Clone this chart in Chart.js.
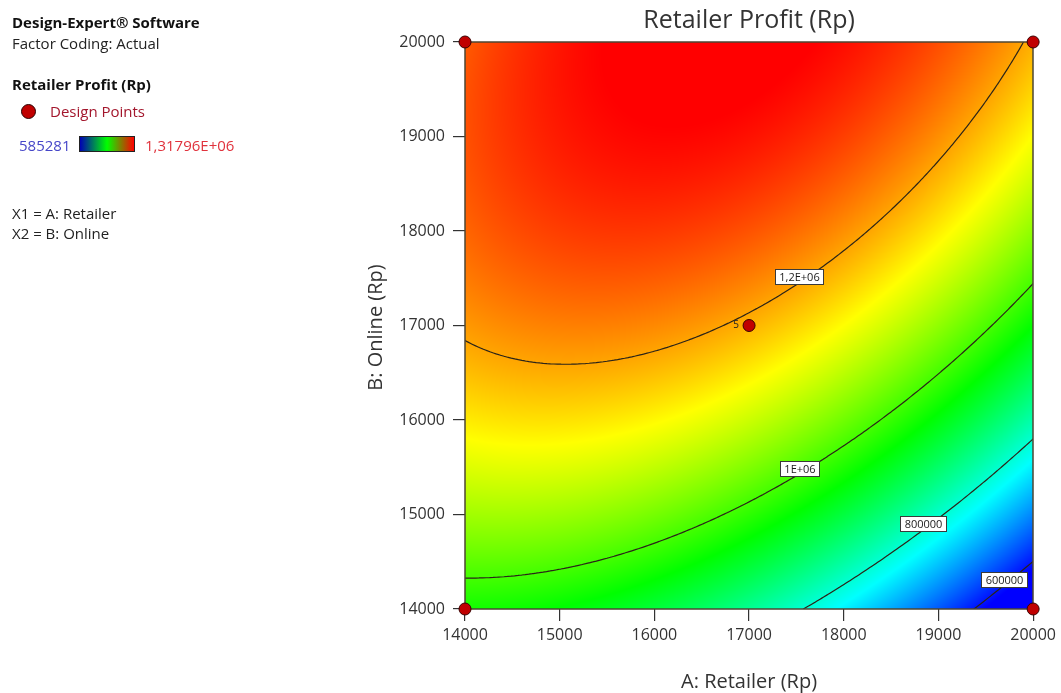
<!DOCTYPE html>
<html>
<head>
<meta charset="utf-8">
<title>Retailer Profit (Rp)</title>
<script src="https://cdn.jsdelivr.net/npm/chart.js@4.4.1/dist/chart.umd.min.js"></script>
<style>
  html, body { margin: 0; padding: 0; background: #fff; }
  #wrap { position: relative; width: 1061px; height: 693px; overflow: hidden; font-family: "Open Sans", "Noto Sans", sans-serif; }
  #chart { position: absolute; left: 0; top: 0; }
  .side { position: absolute; left: 12px; font-size: 15px; color: #222; white-space: nowrap; line-height: 18px; }
  .bold { font-weight: 700; color: #111; }
  #dot { position: absolute; left: 21px; top: 104px; width: 13px; height: 13px; border-radius: 50%; background: #c00000; border: 1.5px solid #2a0000; }
  #ramp { position: absolute; left: 79px; top: 136px; width: 54px; height: 14px; border: 1px solid #222;
          background: linear-gradient(to right, #0000b4, #00ff00 50%, #ff0000); }
</style>
</head>
<body>
<div id="wrap">
  <canvas id="chart" width="1061" height="693"></canvas>
  <div class="side bold" style="top:13px">Design-Expert® Software</div>
  <div class="side" style="top:34px">Factor Coding: Actual</div>
  <div class="side bold" style="top:75px">Retailer Profit (Rp)</div>
  <div id="dot"></div>
  <div class="side" style="top:102px;left:50px;color:#a3162c">Design Points</div>
  <div class="side" style="top:136px;left:19px;color:#4646c8">585281</div>
  <div id="ramp"></div>
  <div class="side" style="top:136px;left:145px;color:#e0323c">1,31796E+06</div>
  <div class="side" style="top:204px">X1 = A: Retailer</div>
  <div class="side" style="top:224px">X2 = B: Online</div>
</div>
<script>
// Fitted quadratic model of Retailer Profit in coded factors:
// a = (A - 17000) / 3000, b = (B - 17000) / 3000
const modelTerms = ['Intercept', 'A', 'B', 'AB', 'A²', 'B²'];
const modelCoefs = [1189300, -128000, 242050, 97750, -109400, -100000];
const factorCenter = [17000, 17000];
const factorHalfRange = [3000, 3000];

// Design points (A: Retailer, B: Online) and replicate counts
const designA = [14000, 20000, 14000, 20000, 17000];
const designB = [14000, 14000, 20000, 20000, 17000];
const designReps = [1, 1, 1, 1, 5];

// Colour scale limits
const responseMin = 585281;
const responseMax = 1317960;

// Contour levels and their tags; tags sit on the line at the given A value
const contourLevels = [600000, 800000, 1000000, 1200000];
const contourTags = ['600000', '800000', '1E+06', '1,2E+06'];
const contourTagA = [19694, 18839, 17530, 17530];

// Axis ticks
const retailerTicks = [14000, 15000, 16000, 17000, 18000, 19000, 20000];
const onlineTicks = [14000, 15000, 16000, 17000, 18000, 19000, 20000];

const FONT = '"Open Sans", "Noto Sans", sans-serif';

function profitAt(A, B) {
  const a = (A - factorCenter[0]) / factorHalfRange[0];
  const b = (B - factorCenter[1]) / factorHalfRange[1];
  const c = modelCoefs;
  return c[0] + c[1] * a + c[2] * b + c[3] * a * b + c[4] * a * a + c[5] * b * b;
}

// blue -> cyan -> green -> yellow -> red
const rampStops = [
  [0.00, 0, 0, 255],
  [0.25, 0, 255, 255],
  [0.50, 0, 255, 0],
  [0.75, 255, 255, 0],
  [1.00, 255, 0, 0]
];
function rampColor(v) {
  let t = (v - responseMin) / (responseMax - responseMin);
  t = Math.max(0, Math.min(1, t));
  for (let i = 1; i < rampStops.length; i++) {
    const s0 = rampStops[i - 1], s1 = rampStops[i];
    if (t <= s1[0]) {
      const f = (t - s0[0]) / (s1[0] - s0[0]);
      return [s0[1] + (s1[1] - s0[1]) * f, s0[2] + (s1[2] - s0[2]) * f, s0[3] + (s1[3] - s0[3]) * f];
    }
  }
  return [255, 0, 0];
}

// Marching squares over the model, returning segments in data units
function contourSegments(level, n) {
  const segs = [];
  const A0 = retailerTicks[0], A1 = retailerTicks[retailerTicks.length - 1];
  const B0 = onlineTicks[0], B1 = onlineTicks[onlineTicks.length - 1];
  const dA = (A1 - A0) / n, dB = (B1 - B0) / n;
  const g = [];
  for (let j = 0; j <= n; j++) {
    const row = [];
    for (let i = 0; i <= n; i++) row.push(profitAt(A0 + i * dA, B0 + j * dB) - level);
    g.push(row);
  }
  const lerp = (p, q, vp, vq) => {
    const f = vp / (vp - vq);
    return [p[0] + (q[0] - p[0]) * f, p[1] + (q[1] - p[1]) * f];
  };
  for (let j = 0; j < n; j++) {
    for (let i = 0; i < n; i++) {
      const P = [[A0 + i * dA, B0 + j * dB], [A0 + (i + 1) * dA, B0 + j * dB],
                 [A0 + (i + 1) * dA, B0 + (j + 1) * dB], [A0 + i * dA, B0 + (j + 1) * dB]];
      const V = [g[j][i], g[j][i + 1], g[j + 1][i + 1], g[j + 1][i]];
      const pts = [];
      for (let e = 0; e < 4; e++) {
        const v0 = V[e], v1 = V[(e + 1) % 4];
        if ((v0 < 0) !== (v1 < 0)) pts.push(lerp(P[e], P[(e + 1) % 4], v0, v1));
      }
      if (pts.length === 2) segs.push(pts);
      else if (pts.length === 4) { segs.push([pts[0], pts[1]]); segs.push([pts[2], pts[3]]); }
    }
  }
  return segs;
}

// B value where the contour of a level crosses a given A
function onlineForLevel(A, level) {
  let lo = onlineTicks[0], hi = onlineTicks[onlineTicks.length - 1];
  for (let k = 0; k < 60; k++) {
    const mid = (lo + hi) / 2;
    if (profitAt(A, mid) < level) lo = mid; else hi = mid;
  }
  return (lo + hi) / 2;
}

const surfacePlugin = {
  id: 'surface',
  beforeDatasetsDraw(chart) {
    const { ctx, chartArea: ca, scales: { x, y } } = chart;
    const L = Math.round(ca.left), T = Math.round(ca.top);
    const W = Math.round(ca.right) - L, H = Math.round(ca.bottom) - T;
    const img = ctx.createImageData(W, H);
    for (let py = 0; py < H; py++) {
      const B = y.getValueForPixel(T + py + 0.5);
      for (let px = 0; px < W; px++) {
        const A = x.getValueForPixel(L + px + 0.5);
        const c = rampColor(profitAt(A, B));
        const k = (py * W + px) * 4;
        img.data[k] = c[0]; img.data[k + 1] = c[1]; img.data[k + 2] = c[2]; img.data[k + 3] = 255;
      }
    }
    ctx.putImageData(img, L, T);

    ctx.save();
    ctx.beginPath();
    ctx.rect(L, T, W, H);
    ctx.clip();
    ctx.strokeStyle = '#2b2418';
    ctx.lineWidth = 1.2;
    ctx.lineCap = 'round';
    contourLevels.forEach(level => {
      ctx.beginPath();
      contourSegments(level, 160).forEach(s => {
        ctx.moveTo(x.getPixelForValue(s[0][0]), y.getPixelForValue(s[0][1]));
        ctx.lineTo(x.getPixelForValue(s[1][0]), y.getPixelForValue(s[1][1]));
      });
      ctx.stroke();
    });
    ctx.restore();

    // contour tags, boxed and sitting slightly above the line
    ctx.save();
    ctx.font = '11px ' + FONT;
    ctx.textAlign = 'center';
    ctx.textBaseline = 'middle';
    contourLevels.forEach((level, i) => {
      const A = contourTagA[i];
      const cx = x.getPixelForValue(A);
      const cy = y.getPixelForValue(onlineForLevel(A, level)) - 6;
      const tw = Math.round(ctx.measureText(contourTags[i]).width + 8);
      const th = 15;
      const bx = Math.round(cx - tw / 2) + 0.5, by = Math.round(cy - th / 2) + 0.5;
      ctx.fillStyle = '#ffffff';
      ctx.fillRect(bx, by, tw, th);
      ctx.strokeStyle = '#3a3a3a';
      ctx.lineWidth = 1;
      ctx.strokeRect(bx, by, tw, th);
      ctx.fillStyle = '#1a1a1a';
      ctx.fillText(contourTags[i], bx + tw / 2, by + th / 2 + 0.5);
    });
    ctx.restore();

    // plot frame
    ctx.save();
    ctx.strokeStyle = '#4d4733';
    ctx.lineWidth = 1.5;
    ctx.strokeRect(L, T, W, H);
    ctx.restore();
  },
  afterDatasetsDraw(chart) {
    const { ctx, scales: { x, y } } = chart;
    ctx.save();
    ctx.font = '10px ' + FONT;
    ctx.fillStyle = '#222';
    ctx.textAlign = 'right';
    ctx.textBaseline = 'middle';
    designA.forEach((A, i) => {
      if (designReps[i] > 1) {
        ctx.fillText(String(designReps[i]), x.getPixelForValue(A) - 10, y.getPixelForValue(designB[i]));
      }
    });
    ctx.restore();
  },
  afterDraw(chart) {
    const { ctx, chartArea: ca } = chart;
    const mid = (ca.left + ca.right) / 2;
    ctx.save();
    ctx.fillStyle = '#333';
    ctx.textAlign = 'center';
    ctx.textBaseline = 'middle';
    ctx.font = '25px ' + FONT;
    ctx.fillText('Retailer Profit (Rp)', mid, 21);
    ctx.font = '20px ' + FONT;
    ctx.fillText('A: Retailer (Rp)', mid, 682);
    ctx.translate(376, (ca.top + ca.bottom) / 2 + 2);
    ctx.rotate(-Math.PI / 2);
    ctx.fillText('B: Online (Rp)', 0, 0);
    ctx.restore();
  }
};

const tickFont = { family: FONT, size: 16 };

new Chart(document.getElementById('chart'), {
  type: 'scatter',
  data: {
    datasets: [{
      data: designA.map((A, i) => ({ x: A, y: designB[i] })),
      pointRadius: 6,
      pointHoverRadius: 6,
      backgroundColor: '#c00000',
      borderColor: '#3a0000',
      borderWidth: 1,
      clip: false
    }]
  },
  options: {
    responsive: false,
    animation: false,
    events: [],
    layout: { padding: { top: 42, right: 26, left: 0, bottom: 0 } },
    plugins: { legend: { display: false }, tooltip: { enabled: false } },
    scales: {
      x: {
        type: 'linear',
        min: retailerTicks[0],
        max: retailerTicks[retailerTicks.length - 1],
        afterBuildTicks: s => { s.ticks = retailerTicks.map(v => ({ value: v })); },
        afterFit: s => { s.height = 84; },
        ticks: { font: tickFont, color: '#333', padding: 5, maxRotation: 0, callback: v => String(v) },
        grid: { drawOnChartArea: false, drawTicks: true, tickLength: 12, color: '#333', lineWidth: 1.2 },
        border: { display: false }
      },
      y: {
        type: 'linear',
        min: onlineTicks[0],
        max: onlineTicks[onlineTicks.length - 1],
        afterBuildTicks: s => { s.ticks = onlineTicks.map(v => ({ value: v })); },
        afterFit: s => { s.width = 465; },
        ticks: { font: tickFont, color: '#333', padding: 8, callback: v => String(v) },
        grid: { drawOnChartArea: false, drawTicks: true, tickLength: 12, color: '#333', lineWidth: 1.2 },
        border: { display: false }
      }
    }
  },
  plugins: [surfacePlugin]
});
</script>
</body>
</html>
